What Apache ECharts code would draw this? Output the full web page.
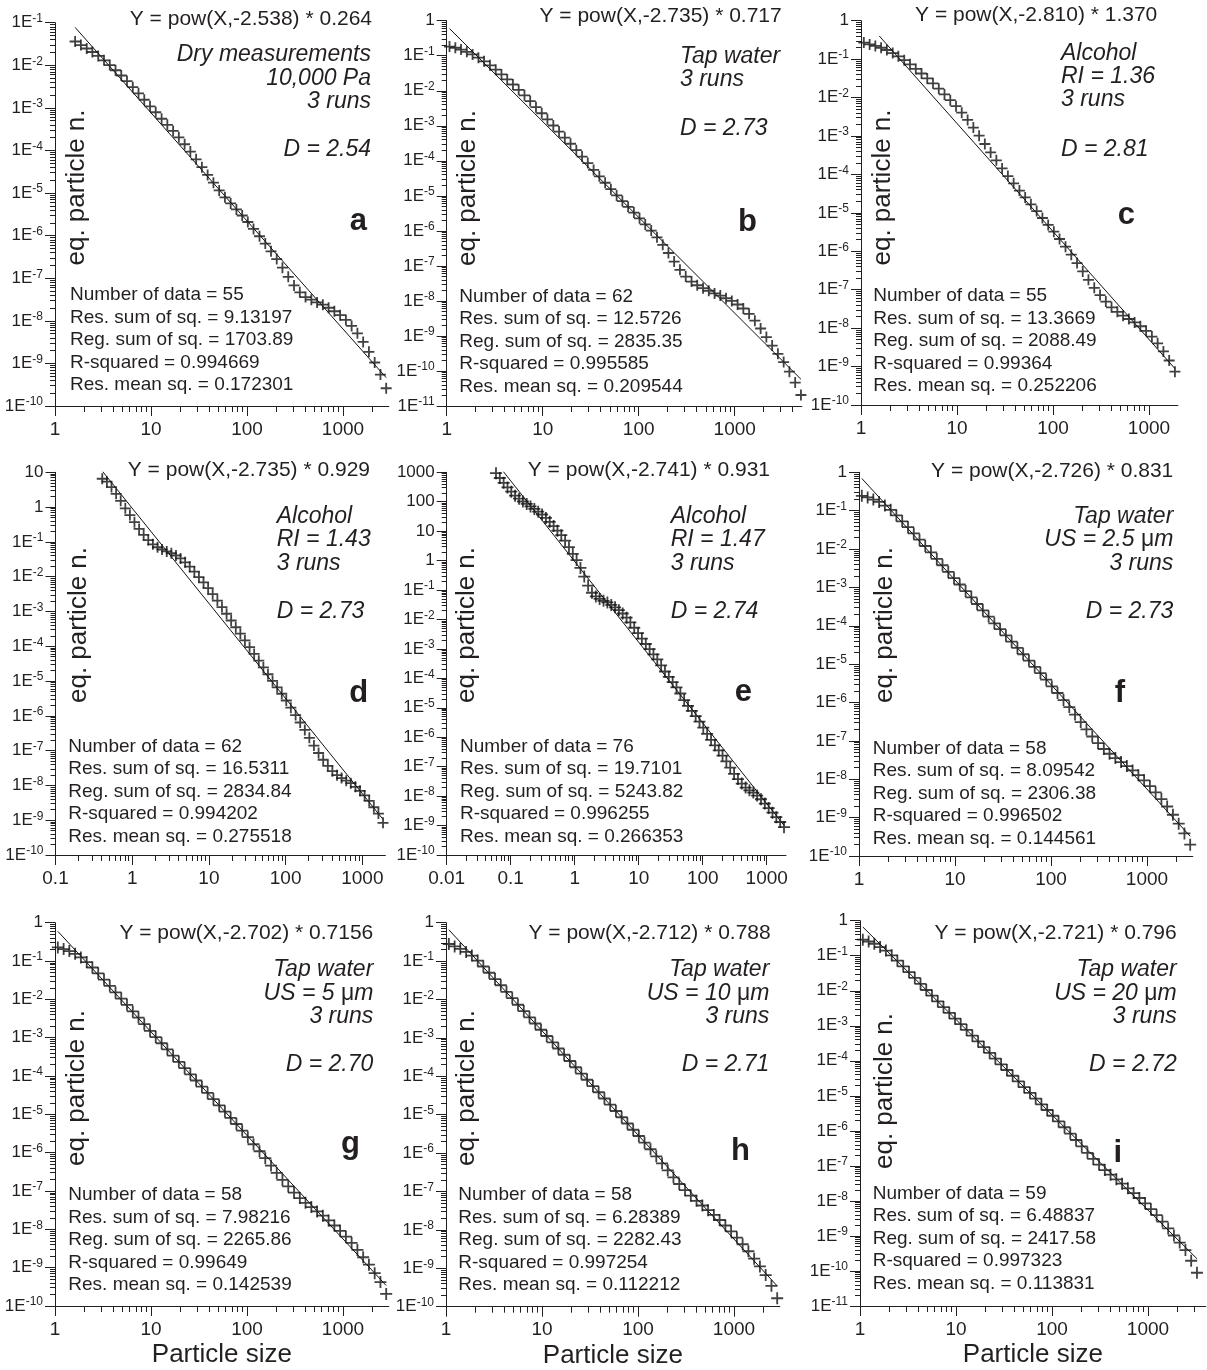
<!DOCTYPE html>
<html>
<head>
<meta charset="utf-8">
<script src="https://cdn.jsdelivr.net/npm/echarts@6/dist/echarts.min.js"></script>
<style>
  html, body { margin: 0; padding: 0; background: #ffffff; }
  #chart { width: 1207px; height: 1370px; }
</style>
</head>
<body>
<div id="chart"></div>
<script>
// Size classes shared by every run (geometric bins, ~1.148 ratio)
const sizeBins = [
  0.0589, 0.0676, 0.0776, 0.0891, 0.102, 0.117, 0.135, 0.155, 0.178, 0.204, 0.234, 0.269, 0.309, 0.355, 0.407, 0.468, 0.537, 0.617, 0.708, 0.813, 0.933,
  1.07, 1.23, 1.41, 1.62, 1.86, 2.14, 2.45, 2.82, 3.24, 3.72, 4.27, 4.90, 5.62, 6.46, 7.41, 8.51, 9.77,
  11.2, 12.9, 14.8, 17.0, 19.5, 22.4, 25.7, 29.5, 33.9, 38.9, 44.7, 51.3, 58.9, 67.6, 77.6, 89.1,
  102, 117, 135, 155, 178, 204, 234, 269, 309, 355, 407, 468, 537, 617, 708, 813, 933,
  1072, 1230, 1413, 1622, 1862, 2138, 2455, 2818, 3236, 3715, 4266, 4898
];

const panelLetters = ['a', 'b', 'c', 'd', 'e', 'f', 'g', 'h', 'i'];
// index into sizeBins of each run's first size class
const binStart = [24, 21, 21, 14, 0, 21, 21, 21, 21];

// equivalent particle number per size class
const runA = [
  3.62e-2, 2.99e-2, 2.48e-2, 2.05e-2, 1.66e-2, 1.31e-2, 1.01e-2, 7.64e-3, 5.75e-3, 4.25e-3,
  3.06e-3, 2.20e-3, 1.55e-3, 1.09e-3, 7.89e-4, 5.55e-4, 4.00e-4, 2.88e-4, 2.03e-4, 1.40e-4,
  9.40e-5, 6.18e-5, 4.06e-5, 2.67e-5, 1.75e-5, 1.15e-5, 7.93e-6, 5.71e-6, 4.12e-6, 2.97e-6,
  2.09e-6, 1.44e-6, 9.68e-7, 6.50e-7, 4.28e-7, 2.81e-7, 1.77e-7, 1.08e-7, 6.79e-8, 4.68e-8,
  3.61e-8, 3.13e-8, 2.71e-8, 2.40e-8, 2.03e-8, 1.68e-8, 1.36e-8, 1.05e-8, 7.57e-9, 5.09e-9,
  3.20e-9, 1.87e-9, 1.05e-9, 5.47e-10, 2.61e-10
];
const runB = [
  1.83e-1, 1.69e-1, 1.50e-1, 1.29e-1, 1.09e-1, 8.77e-2, 6.90e-2, 5.31e-2, 3.99e-2, 2.92e-2,
  2.10e-2, 1.51e-2, 1.06e-2, 7.41e-3, 5.08e-3, 3.40e-3, 2.28e-3, 1.53e-3, 1.02e-3, 6.84e-4,
  4.58e-4, 3.07e-4, 2.01e-4, 1.32e-4, 8.61e-5, 5.51e-5, 3.61e-5, 2.36e-5, 1.55e-5, 1.03e-5,
  7.09e-6, 4.86e-6, 3.33e-6, 2.28e-6, 1.53e-6, 1.02e-6, 6.55e-7, 4.00e-7, 2.33e-7, 1.33e-7,
  7.74e-8, 4.95e-8, 3.56e-8, 2.80e-8, 2.31e-8, 1.95e-8, 1.64e-8, 1.42e-8, 1.19e-8, 1.00e-8,
  7.91e-9, 6.08e-9, 4.27e-9, 2.73e-9, 1.63e-9, 9.29e-10, 5.30e-10, 3.09e-10, 1.80e-10, 9.57e-11,
  4.65e-11, 2.06e-11
];
const runC = [
  2.70e-1, 2.42e-1, 2.21e-1, 1.98e-1, 1.73e-1, 1.44e-1, 1.18e-1, 9.38e-2, 7.31e-2, 5.56e-2,
  4.23e-2, 3.15e-2, 2.34e-2, 1.70e-2, 1.21e-2, 8.57e-3, 5.96e-3, 4.04e-3, 2.62e-3, 1.66e-3,
  1.02e-3, 6.19e-4, 3.74e-4, 2.32e-4, 1.43e-4, 9.06e-5, 5.87e-5, 3.80e-5, 2.52e-5, 1.67e-5,
  1.11e-5, 7.35e-6, 4.86e-6, 3.23e-6, 2.09e-6, 1.32e-6, 8.18e-7, 4.94e-7, 2.99e-7, 1.81e-7,
  1.12e-7, 7.24e-8, 4.91e-8, 3.49e-8, 2.65e-8, 2.11e-8, 1.73e-8, 1.41e-8, 1.12e-8, 8.53e-9,
  6.05e-9, 4.02e-9, 2.48e-9, 1.44e-9, 7.38e-10
];
const runD = [
  6.53, 5.38, 3.77, 2.41, 1.51, 9.20e-1, 5.89e-1, 3.68e-1, 2.36e-1, 1.58e-1,
  1.13e-1, 8.49e-2, 7.00e-2, 6.04e-2, 5.33e-2, 4.71e-2, 4.06e-2, 3.35e-2, 2.58e-2, 1.94e-2,
  1.39e-2, 9.73e-3, 6.82e-3, 4.68e-3, 3.13e-3, 2.05e-3, 1.34e-3, 8.59e-4, 5.50e-4, 3.52e-4,
  2.30e-4, 1.47e-4, 9.40e-5, 6.01e-5, 3.85e-5, 2.46e-5, 1.57e-5, 1.01e-5, 6.59e-6, 4.31e-6,
  2.76e-6, 1.72e-6, 1.05e-6, 6.43e-7, 3.93e-7, 2.34e-7, 1.40e-7, 8.55e-8, 5.47e-8, 3.66e-8,
  2.57e-8, 1.97e-8, 1.63e-8, 1.37e-8, 1.16e-8, 9.10e-9, 7.00e-9, 5.14e-9, 3.61e-9, 2.36e-9,
  1.55e-9, 8.39e-10
];
const runE = [
  933, 640, 439, 307, 220, 161, 127, 102, 84.1, 69.2,
  57.0, 45.8, 36.9, 28.3, 20.8, 14.9, 10.4, 7.32, 4.79, 2.86,
  1.70, 1.04, 5.65e-1, 2.87e-1, 1.42e-1, 8.11e-2, 6.08e-2, 5.01e-2, 4.32e-2, 3.81e-2,
  3.13e-2, 2.58e-2, 2.08e-2, 1.60e-2, 1.15e-2, 8.02e-3, 5.25e-3, 3.43e-3, 2.24e-3, 1.47e-3,
  9.82e-4, 6.56e-4, 4.40e-4, 2.75e-4, 1.71e-4, 1.12e-4, 7.50e-5, 4.91e-5, 3.06e-5, 1.83e-5,
  1.17e-5, 7.82e-6, 5.22e-6, 3.42e-6, 2.13e-6, 1.30e-6, 8.15e-7, 5.32e-7, 3.56e-7, 2.38e-7,
  1.52e-7, 9.29e-8, 5.68e-8, 3.79e-8, 2.66e-8, 1.95e-8, 1.57e-8, 1.32e-8, 1.04e-8, 7.82e-9,
  5.60e-9, 3.93e-9, 2.75e-9, 1.93e-9, 1.32e-9, 8.83e-10
];
const runF = [
  2.44e-1, 2.21e-1, 1.95e-1, 1.69e-1, 1.36e-1, 1.05e-1, 7.52e-2, 5.28e-2, 3.71e-2, 2.55e-2,
  1.75e-2, 1.20e-2, 8.22e-3, 5.51e-3, 3.78e-3, 2.54e-3, 1.74e-3, 1.19e-3, 8.02e-4, 5.50e-4,
  3.69e-4, 2.53e-4, 1.74e-4, 1.16e-4, 8.17e-5, 5.61e-5, 3.85e-5, 2.64e-5, 1.81e-5, 1.24e-5,
  8.53e-6, 5.85e-6, 3.93e-6, 2.63e-6, 1.77e-6, 1.16e-6, 7.59e-7, 4.85e-7, 3.10e-7, 1.99e-7,
  1.30e-7, 8.75e-8, 6.14e-8, 4.62e-8, 3.56e-8, 2.81e-8, 2.21e-8, 1.70e-8, 1.28e-8, 9.40e-9,
  6.61e-9, 4.53e-9, 3.04e-9, 1.95e-9, 1.19e-9, 6.95e-10, 3.87e-10, 1.97e-10
];
const runG = [
  2.26e-1, 2.05e-1, 1.82e-1, 1.54e-1, 1.24e-1, 9.40e-2, 6.78e-2, 4.77e-2, 3.29e-2, 2.26e-2,
  1.52e-2, 1.05e-2, 7.21e-3, 4.85e-3, 3.34e-3, 2.25e-3, 1.51e-3, 1.04e-3, 7.17e-4, 4.93e-4,
  3.40e-4, 2.34e-4, 1.61e-4, 1.11e-4, 7.63e-5, 5.26e-5, 3.62e-5, 2.49e-5, 1.71e-5, 1.18e-5,
  8.13e-6, 5.60e-6, 3.77e-6, 2.54e-6, 1.66e-6, 1.09e-6, 7.19e-7, 4.62e-7, 2.97e-7, 1.95e-7,
  1.32e-7, 9.06e-8, 6.53e-8, 4.92e-8, 3.80e-8, 2.94e-8, 2.27e-8, 1.71e-8, 1.26e-8, 9.12e-9,
  6.43e-9, 4.42e-9, 2.90e-9, 1.87e-9, 1.20e-9, 7.19e-10, 4.22e-10, 2.06e-10
];
const runH = [
  2.79e-1, 2.41e-1, 2.09e-1, 1.73e-1, 1.39e-1, 1.03e-1, 7.23e-2, 4.97e-2, 3.41e-2, 2.35e-2,
  1.58e-2, 1.08e-2, 7.29e-3, 5.01e-3, 3.44e-3, 2.37e-3, 1.63e-3, 1.12e-3, 7.69e-4, 5.29e-4,
  3.64e-4, 2.50e-4, 1.72e-4, 1.18e-4, 8.13e-5, 5.58e-5, 3.84e-5, 2.64e-5, 1.82e-5, 1.25e-5,
  8.58e-6, 5.90e-6, 4.06e-6, 2.79e-6, 1.87e-6, 1.26e-6, 8.26e-7, 5.42e-7, 3.56e-7, 2.34e-7,
  1.57e-7, 1.08e-7, 7.78e-8, 5.73e-8, 4.32e-8, 3.26e-8, 2.45e-8, 1.81e-8, 1.30e-8, 9.16e-9,
  6.30e-9, 4.23e-9, 2.78e-9, 1.78e-9, 1.12e-9, 6.68e-10, 3.49e-10, 1.66e-10
];
const runI = [
  2.88e-1, 2.55e-1, 2.20e-1, 1.77e-1, 1.40e-1, 1.03e-1, 7.24e-2, 4.97e-2, 3.41e-2, 2.34e-2,
  1.57e-2, 1.05e-2, 7.24e-3, 4.98e-3, 3.42e-3, 2.35e-3, 1.61e-3, 1.11e-3, 7.60e-4, 5.22e-4,
  3.58e-4, 2.46e-4, 1.69e-4, 1.16e-4, 7.96e-5, 5.47e-5, 3.75e-5, 2.58e-5, 1.77e-5, 1.22e-5,
  8.35e-6, 5.73e-6, 3.94e-6, 2.70e-6, 1.86e-6, 1.27e-6, 8.36e-7, 5.48e-7, 3.59e-7, 2.36e-7,
  1.58e-7, 1.09e-7, 7.62e-8, 5.61e-8, 4.13e-8, 3.11e-8, 2.29e-8, 1.68e-8, 1.21e-8, 8.51e-9,
  5.83e-9, 3.92e-9, 2.57e-9, 1.64e-9, 1.03e-9, 6.46e-10, 3.95e-10, 1.96e-10, 8.91e-11
];
const runValues = [runA, runB, runC, runD, runE, runF, runG, runH, runI];

// power-law fits  Y = pow(X, fitExponent) * fitCoef
const fitExponent = [-2.538, -2.735, -2.810, -2.735, -2.741, -2.726, -2.702, -2.712, -2.721];
const fitCoef = [0.264, 0.717, 1.370, 0.929, 0.931, 0.831, 0.7156, 0.788, 0.796];
const fitExponentText = ['-2.538', '-2.735', '-2.810', '-2.735', '-2.741', '-2.726', '-2.702', '-2.712', '-2.721'];
const fitCoefText = ['0.264', '0.717', '1.370', '0.929', '0.931', '0.831', '0.7156', '0.788', '0.796'];
const fitFrom = [1.62, 1.07, 1.55, 0.407, 0.0589, 1.07, 1.07, 1.07, 1.07];
const fitTo = [2818, 4898, 1862, 1862, 1862, 2818, 2818, 2818, 3236];

// axis extents
const xMin = [1, 1, 1, 0.1, 0.01, 1, 1, 1, 1];
const xMax = [3000, 5000, 2000, 2000, 2000, 3000, 3000, 3000, 4000];
const yMin = [1e-10, 1e-11, 1e-10, 1e-10, 1e-10, 1e-10, 1e-10, 1e-10, 1e-11];
const yMax = [1e-1, 1, 1, 10, 1000, 1, 1, 1, 1];

// regression summaries
const nData = ['55', '62', '55', '62', '76', '58', '58', '58', '59'];
const resSumSq = ['9.13197', '12.5726', '13.3669', '16.5311', '19.7101', '8.09542', '7.98216', '6.28389', '6.48837'];
const regSumSq = ['1703.89', '2835.35', '2088.49', '2834.84', '5243.82', '2306.38', '2265.86', '2282.43', '2417.58'];
const rSquared = ['0.994669', '0.995585', '0.99364', '0.994202', '0.996255', '0.996502', '0.99649', '0.997254', '0.997323'];
const resMeanSq = ['0.172301', '0.209544', '0.252206', '0.275518', '0.266353', '0.144561', '0.142539', '0.112212', '0.113831'];

// sample descriptions and fractal dimension
const sampleNotes = [
  ['Dry measurements', '10,000 Pa', '3 runs'],
  ['Tap water', '3 runs'],
  ['Alcohol', 'RI = 1.36', '3 runs'],
  ['Alcohol', 'RI = 1.43', '3 runs'],
  ['Alcohol', 'RI = 1.47', '3 runs'],
  ['Tap water', 'US = 2.5 {u|\u03bc}m', '3 runs'],
  ['Tap water', 'US = 5 {u|\u03bc}m', '3 runs'],
  ['Tap water', 'US = 10 {u|\u03bc}m', '3 runs'],
  ['Tap water', 'US = 20 {u|\u03bc}m', '3 runs']
];
const dimension = ['2.54', '2.73', '2.81', '2.73', '2.74', '2.73', '2.70', '2.71', '2.72'];

// ---- layout (pixels) ----
const gridBox = [
  [55, 22.7, 333.8, 383.3], [446.7, 20.7, 355.1, 385.3], [861, 20.7, 316.9, 384.3],
  [55.5, 472.3, 329.9, 382.7], [446.7, 472.3, 339.3, 382.7], [859, 472.3, 333.8, 383.7],
  [55, 922.7, 333.8, 383.3], [446, 922.7, 333.8, 384], [860, 920.7, 345.8, 385.3]
];
const formulaPos = [[372, 19], [781.7, 16.7], [1157.3, 15], [370, 470], [770, 470], [1173.3, 471.7], [373.3, 933.3], [770.7, 933.3], [1176.7, 933.3]];
const notesAlign = ['right', 'left', 'left', 'left', 'left', 'right', 'right', 'right', 'right'];
const notesX = [371, 680, 1061, 276.7, 670.7, 1173.3, 373.3, 769.3, 1176.7];
const notesY = [55, 56.7, 53.3, 516.7, 516.7, 516.7, 970, 970, 970];
const dimY = [150, 128.3, 150, 611.7, 611.7, 611.7, 1065, 1065, 1065];
const letterPos = [[367, 221], [757, 222.7], [1135, 215.3], [368.3, 693.3], [752, 692], [1125, 693.3], [360, 1144.5], [750, 1151.7], [1122, 1153]];
const statsPos = [[70, 295], [459.3, 296.7], [873.3, 296], [68.3, 746.7], [460, 746.7], [872.7, 748.3], [68.3, 1195], [458.3, 1195], [872.7, 1193.3]];
const yTitlePos = [[77, 187.5], [467.5, 188], [883, 187.5], [78.5, 625], [467, 625], [884.7, 625], [77, 1088], [467, 1088], [885, 1091]];
const markerSize = [11, 11, 11, 11, 12, 12, 12, 12, 12];

const INK = '#231f20';
const FONT = '"Liberation Sans", Arial, Helvetica, sans-serif';
const PLUS = 'path://M0,5L10,5M5,0L5,10';

function decades(lo, hi) {
  const out = [];
  for (let e = Math.round(Math.log10(lo)); e <= Math.floor(Math.log10(hi) + 1e-9); e++) out.push(Number('1e' + e));
  return out;
}
function minorSteps(lo, hi) {
  const out = [];
  for (let e = Math.floor(Math.log10(lo)); e <= Math.floor(Math.log10(hi)); e++) {
    for (let m = 2; m <= 9; m++) {
      const v = Number(m + 'e' + e);
      if (v > lo * 1.0001 && v < hi * 0.9999) out.push(v);
    }
  }
  return out;
}
function yLabel(v) {
  const e = Math.round(Math.log10(v));
  if (e >= 0) return String(Math.round(Math.pow(10, e)));
  return '1E{s|' + e + '}';
}
function xLabel(v) {
  const e = Math.round(Math.log10(v));
  if (e >= 0) return String(Math.round(Math.pow(10, e)));
  return e === -1 ? '0.1' : (e === -2 ? '0.01' : String(v));
}

const grid = [], xAxis = [], yAxis = [], series = [], graphic = [];

function text(x, y, str, size, opts) {
  return {
    type: 'text', x: x, y: y, silent: true, z: 100,
    style: Object.assign({
      text: str, fill: INK, fontSize: size, fontFamily: FONT,
      fontStyle: 'normal', fontWeight: 'normal', align: 'left', verticalAlign: 'middle'
    }, opts || {})
  };
}

panelLetters.forEach(function (letter, i) {
  const box = gridBox[i];
  grid.push({ left: box[0], top: box[1], width: box[2], height: box[3], outerBoundsMode: 'none', containLabel: false });

  const xMajor = decades(xMin[i], xMax[i]);
  const yMajor = decades(yMin[i], yMax[i]);
  const axisLineStyle = { color: INK, width: 1 };

  // main x axis: line, decade ticks and labels
  xAxis.push({
    type: 'log', gridIndex: i, min: xMin[i], max: xMax[i], position: 'bottom',
    axisLine: { show: true, onZero: false, lineStyle: axisLineStyle },
    axisTick: { show: true, length: 10, customValues: xMajor, lineStyle: axisLineStyle },
    axisLabel: { show: true, customValues: xMajor, formatter: xLabel, color: INK, fontFamily: FONT, fontSize: 19, margin: 14 },
    splitLine: { show: false },
    name: i >= 6 ? 'Particle size' : '',
    nameLocation: 'middle', nameGap: 36,
    nameTextStyle: { color: INK, fontFamily: FONT, fontSize: 26 }
  });
  // minor x ticks on the same baseline
  xAxis.push({
    type: 'log', gridIndex: i, min: xMin[i], max: xMax[i], position: 'bottom', offset: 0,
    axisLine: { show: false, onZero: false },
    axisTick: { show: true, length: 6, customValues: minorSteps(xMin[i], xMax[i]), lineStyle: axisLineStyle },
    axisLabel: { show: false }, splitLine: { show: false }
  });
  // main y axis
  yAxis.push({
    type: 'log', gridIndex: i, min: yMin[i], max: yMax[i], position: 'left',
    axisLine: { show: true, onZero: false, lineStyle: axisLineStyle },
    axisTick: { show: true, length: 10, customValues: yMajor, lineStyle: axisLineStyle },
    axisLabel: {
      show: true, customValues: yMajor, formatter: yLabel, color: INK, fontFamily: FONT,
      fontSize: 17, lineHeight: 20, margin: 12,
      rich: { s: { fontSize: 12, lineHeight: 12, verticalAlign: 'top', color: INK, fontFamily: FONT } }
    },
    splitLine: { show: false }
  });
  // minor y ticks on the same baseline
  yAxis.push({
    type: 'log', gridIndex: i, min: yMin[i], max: yMax[i], position: 'left', offset: 0,
    axisLine: { show: false, onZero: false },
    axisTick: { show: true, length: 5, customValues: minorSteps(yMin[i], yMax[i]), lineStyle: axisLineStyle },
    axisLabel: { show: false }, splitLine: { show: false }
  });

  const vals = runValues[i];
  const pts = vals.map(function (v, k) { return [sizeBins[binStart[i] + k], v]; });
  series.push({
    type: 'scatter', xAxisIndex: 2 * i, yAxisIndex: 2 * i, data: pts,
    symbol: PLUS, symbolSize: markerSize[i], silent: true,
    itemStyle: { color: 'none', borderColor: '#111111', borderWidth: 1.8 }
  });
  const b = fitExponent[i], c = fitCoef[i];
  series.push({
    type: 'line', xAxisIndex: 2 * i, yAxisIndex: 2 * i, silent: true,
    showSymbol: false, symbol: 'none',
    data: [[fitFrom[i], c * Math.pow(fitFrom[i], b)], [fitTo[i], c * Math.pow(fitTo[i], b)]],
    lineStyle: { color: '#111111', width: 1 }
  });

  // annotations
  graphic.push(text(formulaPos[i][0], formulaPos[i][1],
    'Y = pow(X,' + fitExponentText[i] + ') * ' + fitCoefText[i], 21, { align: 'right' }));
  sampleNotes[i].forEach(function (line, j) {
    graphic.push(text(notesX[i], notesY[i] + j * 23.3, line, 23, {
      align: notesAlign[i], fontStyle: 'italic',
      rich: { u: { fontSize: 23, fontFamily: FONT, fontStyle: 'normal', fill: INK } }
    }));
  });
  graphic.push(text(notesX[i], dimY[i], 'D = ' + dimension[i], 23, { align: notesAlign[i], fontStyle: 'italic' }));
  graphic.push(text(letterPos[i][0], letterPos[i][1], letter, 31, { align: 'right', fontWeight: 'bold' }));
  const stats = [
    'Number of data = ' + nData[i],
    'Res. sum of sq. = ' + resSumSq[i],
    'Reg. sum of sq. = ' + regSumSq[i],
    'R-squared = ' + rSquared[i],
    'Res. mean sq. = ' + resMeanSq[i]
  ];
  stats.forEach(function (line, j) {
    graphic.push(text(statsPos[i][0], statsPos[i][1] + j * 22.5, line, 19));
  });
  const yt = text(yTitlePos[i][0], yTitlePos[i][1], 'eq. particle n.', 26, { align: 'center' });
  yt.rotation = Math.PI / 2;
  graphic.push(yt);
});

const chart = echarts.init(document.getElementById('chart'), null, { renderer: 'canvas' });
chart.setOption({
  animation: false,
  backgroundColor: '#ffffff',
  grid: grid,
  xAxis: xAxis,
  yAxis: yAxis,
  series: series,
  graphic: { elements: graphic }
});
</script>
</body>
</html>
